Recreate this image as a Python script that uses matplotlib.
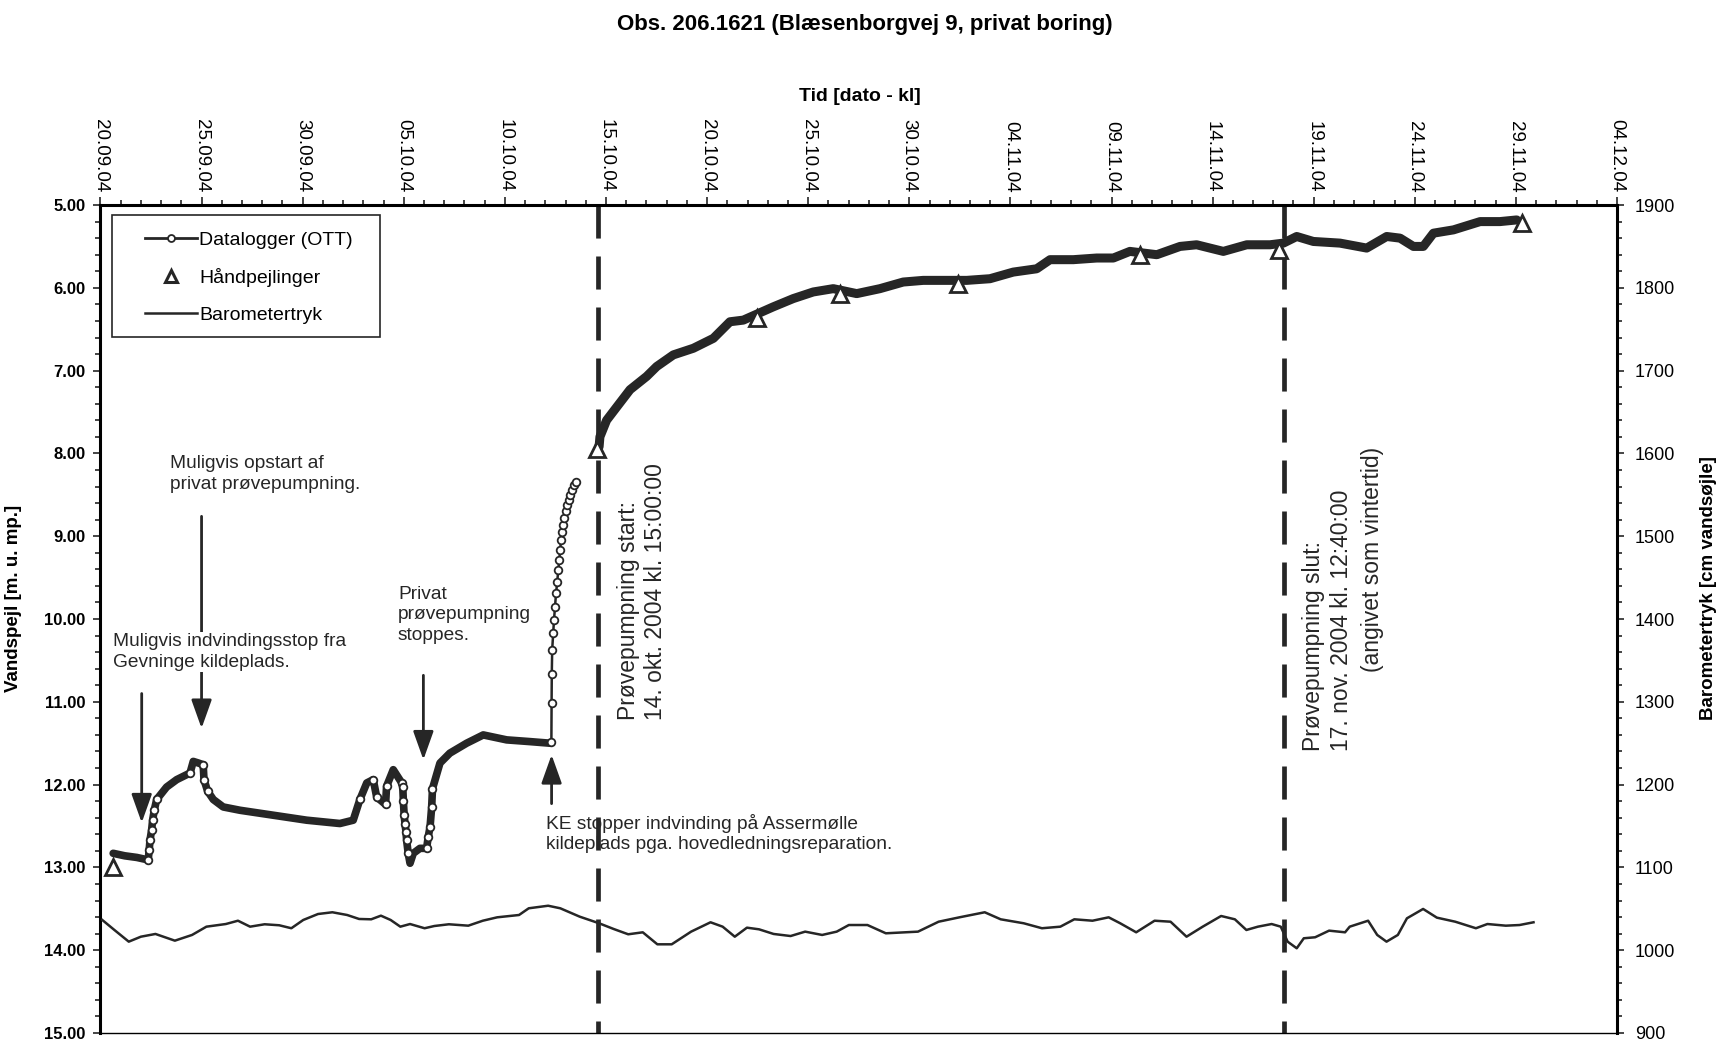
import numpy as np
import matplotlib.pyplot as plt
import matplotlib.dates as mdates
from matplotlib.lines import Line2D
from matplotlib.patches import Rectangle
from matplotlib.ticker import MultipleLocator, FormatStrFormatter, FixedLocator
from datetime import datetime, timedelta

plt.rcParams['font.family'] = ['Liberation Sans', 'DejaVu Sans']

START = datetime(2004, 9, 20)

# datalogger (OTT): dage efter 20.09.2004, vandspejl [m u. mp.]
foer_dage = [0.63, 1.20, 1.80, 2.36, 2.41, 2.45, 2.53, 2.58, 2.66, 2.78,
             3.27, 3.77, 4.43, 4.59, 4.85, 5.08, 5.12, 5.30, 5.58, 6.07,
             6.90, 8.55, 10.20, 11.84, 12.50, 12.83, 13.17, 13.49, 13.66, 14.10,
             14.15, 14.48, 14.90, 14.95, 14.98, 15.02, 15.06, 15.11, 15.14, 15.22,
             15.31, 15.47, 15.80, 16.13, 16.21, 16.30, 16.38, 16.42, 16.79, 17.28,
             18.11, 18.93, 20.09, 21.20, 22.23]
foer_niveau = [12.83, 12.86, 12.88, 12.91, 12.79, 12.67, 12.55, 12.43, 12.31, 12.18,
               12.03, 11.94, 11.86, 11.72, 11.74, 11.76, 11.94, 12.08, 12.18, 12.27,
               12.31, 12.37, 12.43, 12.47, 12.43, 12.18, 11.98, 11.94, 12.15, 12.24,
               12.02, 11.82, 11.98, 12.03, 12.20, 12.37, 12.47, 12.57, 12.67, 12.83,
               12.95, 12.83, 12.77, 12.77, 12.63, 12.51, 12.27, 12.05, 11.74, 11.62,
               11.50, 11.40, 11.46, 11.48, 11.50]

stig_dage = [22.30, 22.31, 22.32, 22.34, 22.39, 22.43, 22.48, 22.53, 22.59, 22.64,
             22.69, 22.73, 22.78, 22.83, 22.89, 22.94, 23.01, 23.09, 23.15, 23.22,
             23.30, 23.42, 23.52]
stig_niveau = [11.48, 11.02, 10.66, 10.37, 10.17, 10.01, 9.85, 9.69, 9.55, 9.41,
               9.29, 9.17, 9.05, 8.95, 8.86, 8.78, 8.70, 8.62, 8.56, 8.50,
               8.44, 8.38, 8.34]

efter_dage = [24.66, 24.70, 25.03, 25.53, 26.19, 27.01, 27.51, 28.33, 29.32, 30.31,
              31.13, 31.79, 33.27, 34.26, 35.25, 36.24, 37.40, 38.55, 39.70, 40.69,
              41.68, 42.84, 43.99, 45.14, 46.30, 46.96, 48.11, 49.27, 50.09, 50.91,
              52.24, 53.39, 54.21, 55.53, 56.69, 57.84, 58.50, 59.16, 59.98, 61.30,
              62.62, 63.61, 64.27, 64.93, 65.42, 65.92, 66.91, 68.23, 69.21, 70.04]
efter_niveau = [7.92, 7.80, 7.60, 7.44, 7.23, 7.07, 6.95, 6.81, 6.73, 6.61,
                6.41, 6.39, 6.23, 6.13, 6.05, 6.01, 6.07, 6.01, 5.93, 5.91,
                5.91, 5.91, 5.89, 5.81, 5.77, 5.66, 5.66, 5.64, 5.64, 5.56,
                5.60, 5.50, 5.48, 5.56, 5.48, 5.48, 5.46, 5.38, 5.44, 5.46,
                5.52, 5.38, 5.40, 5.50, 5.50, 5.34, 5.30, 5.20, 5.20, 5.18]

# håndpejlinger
haand_dage = [0.63, 24.55, 32.45, 36.57, 42.42, 51.40, 58.30, 70.29]
haand_niveau = [13.00, 7.95, 6.37, 6.07, 5.95, 5.60, 5.54, 5.22]

# barometertryk [cm vandsøjle]
baro_dage = [0.09, 0.69, 1.40, 2.00, 2.72, 3.68, 4.53, 5.24, 6.20, 6.80,
             7.40, 8.12, 8.84, 9.44, 10.03, 10.76, 11.47, 12.20, 12.79, 13.39,
             13.87, 14.35, 14.83, 15.31, 16.03, 16.51, 17.23, 18.19, 18.91, 19.62,
             20.70, 21.18, 22.14, 22.74, 23.70, 24.66, 25.38, 26.10, 26.82, 27.54,
             28.25, 29.21, 30.17, 30.77, 31.37, 31.97, 32.57, 33.29, 34.13, 34.85,
             35.69, 36.41, 37.01, 37.93, 38.84, 40.43, 41.45, 42.48, 43.73, 44.52,
             45.66, 46.56, 47.47, 48.16, 49.06, 49.86, 50.43, 51.22, 52.13, 52.92,
             53.71, 54.51, 55.42, 56.10, 56.67, 57.24, 57.92, 58.37, 58.71, 59.16,
             59.51, 60.07, 60.76, 61.55, 61.78, 62.69, 63.14, 63.60, 64.16, 64.61,
             65.41, 66.09, 67.00, 68.02, 68.59, 69.50, 70.18, 70.87]
baro_cm = [1036.5, 1024.4, 1010.3, 1016.3, 1019.6, 1011.5, 1018.4, 1028.4, 1031.6, 1035.6,
           1028.4, 1031.3, 1030.1, 1026.5, 1036.5, 1043.7, 1045.8, 1042.5, 1037.7, 1037.3,
           1041.7, 1036.5, 1028.4, 1031.6, 1026.5, 1029.2, 1031.3, 1029.6, 1035.6, 1039.7,
           1042.5, 1050.6, 1053.7, 1050.6, 1040.5, 1032.5, 1025.6, 1019.2, 1021.6, 1007.1,
           1007.1, 1022.4, 1033.7, 1028.4, 1016.3, 1027.2, 1025.2, 1019.6, 1017.1, 1022.4,
           1018.4, 1022.4, 1030.4, 1030.4, 1020.4, 1022.4, 1034.4, 1039.7, 1045.8, 1037.3,
           1032.5, 1026.5, 1028.4, 1037.3, 1035.6, 1039.7, 1032.5, 1021.6, 1035.6, 1034.4,
           1016.3, 1028.4, 1041.3, 1037.3, 1024.4, 1028.4, 1031.6, 1028.4, 1010.3, 1002.3,
           1014.4, 1015.6, 1023.6, 1021.6, 1028.4, 1035.6, 1018.4, 1010.3, 1018.4, 1038.5,
           1049.8, 1039.3, 1034.4, 1026.5, 1031.6, 1029.6, 1030.4, 1033.7]

pumpe_start = datetime(2004, 10, 14, 15, 0)
pumpe_slut = datetime(2004, 11, 17, 12, 40)

DARK = '#262626'


def dato(dage):
    if np.ndim(dage) == 0:
        return mdates.date2num(START + timedelta(days=float(dage)))
    return [mdates.date2num(START + timedelta(days=float(d))) for d in dage]


fig = plt.figure(figsize=(17.23, 10.45), dpi=100)
ax = fig.add_axes([0.0583, 0.0115, 0.8802, 0.7923])
ax2 = ax.twinx()

# datalogger: tykt bånd, cirkler hvor målingerne ligger spredt (stejle stykker)
fd = np.array(foer_dage)
fn = np.array(foer_niveau)
steep = np.where(np.abs(np.gradient(fn, fd)) > 0.6)[0].tolist()
ax.plot(dato(fd), fn, color=DARK, lw=5.5, solid_capstyle='round', solid_joinstyle='round',
        marker='o', markevery=steep, ms=5.5, mfc='white', mec=DARK, mew=1.3, zorder=3)
ax.plot(dato(stig_dage), stig_niveau, color=DARK, lw=1.8, marker='o', ms=5.5,
        mfc='white', mec=DARK, mew=1.3, zorder=3)
ax.plot(dato(efter_dage), efter_niveau, color=DARK, lw=6.5, solid_capstyle='round',
        solid_joinstyle='round', zorder=3)
ax.plot(dato(haand_dage), haand_niveau, ls='none', marker='^', ms=12, mfc='white',
        mec=DARK, mew=2, zorder=4)

ax2.plot(dato(baro_dage), baro_cm, color=DARK, lw=1.8)

for t in [pumpe_start, pumpe_slut]:
    ax.axvline(mdates.date2num(t), ymin=1, ymax=0, color=DARK, lw=3.4, dashes=(7, 3.8), zorder=2)

# akser
ax.set_xlim(dato(0), dato(75))
ax.set_ylim(15, 5)
ax2.set_ylim(900, 1900)

ax.xaxis.set_major_locator(FixedLocator(dato(np.arange(0, 76, 5))))
ax.xaxis.set_minor_locator(FixedLocator(dato(np.arange(0, 76, 1))))
ax.xaxis.set_major_formatter(mdates.DateFormatter('%d.%m.%y'))
ax.tick_params(axis='x', which='both', top=True, bottom=False, labeltop=True,
               labelbottom=False, direction='out', color=DARK, width=1.2)
ax.tick_params(axis='x', which='major', length=6, pad=3, labelsize=13.5, labelrotation=-90)
ax.tick_params(axis='x', which='minor', length=3.5)

ax.yaxis.set_major_locator(MultipleLocator(1))
ax.yaxis.set_minor_locator(MultipleLocator(0.2))
ax.yaxis.set_major_formatter(FormatStrFormatter('%.2f'))
ax.tick_params(axis='y', which='both', direction='out', color=DARK, width=1.2)
ax.tick_params(axis='y', which='major', length=5, pad=6, labelsize=12)
ax.tick_params(axis='y', which='minor', length=3.5)
for lab in ax.get_yticklabels():
    lab.set_fontweight('bold')

ax2.yaxis.set_major_locator(MultipleLocator(100))
ax2.yaxis.set_minor_locator(MultipleLocator(20))
ax2.tick_params(axis='y', which='both', direction='out', color=DARK, width=1.2)
ax2.tick_params(axis='y', which='major', length=5, pad=8, labelsize=13)
ax2.tick_params(axis='y', which='minor', length=3.5)

for s in ['top', 'left']:
    ax.spines[s].set_linewidth(2.2)
ax.spines['bottom'].set_linewidth(1)
ax.spines['right'].set_visible(False)
for s in ['top', 'left', 'bottom']:
    ax2.spines[s].set_visible(False)
ax2.spines['right'].set_linewidth(2.2)

ax.set_ylabel('Vandspejl [m. u. mp.]', fontsize=13.5, fontweight='bold')
ax.yaxis.set_label_coords(-0.0515, 0.525)
ax2.set_ylabel('Barometertryk [cm vandsøjle]', fontsize=13.5, fontweight='bold')
ax2.yaxis.set_label_coords(1.0544, 0.537)

fig.text(0.502, 0.977, 'Obs. 206.1621 (Blæsenborgvej 9, privat boring)',
         ha='center', va='center', fontsize=16, fontweight='bold')
fig.text(0.499, 0.908, 'Tid [dato - kl]', ha='center', va='center',
         fontsize=14, fontweight='bold')

# kommentarer med pile
arrow = dict(arrowstyle='-|>,head_length=0.7,head_width=0.25', lw=2, color=DARK,
             mutation_scale=25, shrinkA=0, shrinkB=0)
ax.annotate('', xy=(dato(5.0), 11.32), xytext=(dato(5.0), 8.76), arrowprops=arrow, zorder=4)
ax.annotate('', xy=(dato(2.04), 12.46), xytext=(dato(2.04), 10.90), arrowprops=arrow, zorder=4)
ax.annotate('', xy=(dato(15.97), 11.70), xytext=(dato(15.97), 10.68), arrowprops=arrow, zorder=4)
ax.annotate('', xy=(dato(22.31), 11.64), xytext=(dato(22.31), 12.23), arrowprops=arrow, zorder=4)

tkw = dict(fontsize=13.8, color=DARK, ha='left', va='center', linespacing=1.25)
ax.text(dato(3.45), 8.25, 'Muligvis opstart af\nprivat prøvepumpning.', **tkw)
ax.text(dato(0.62), 10.40, 'Muligvis indvindingsstop fra\nGevninge kildeplads.', zorder=6,
        bbox=dict(facecolor='white', edgecolor='none', pad=1), **tkw)
ax.text(dato(14.71), 9.95, 'Privat\nprøvepumpning\nstoppes.', **tkw)
ax.text(dato(22.03), 12.59, 'KE stopper indvinding på Assermølle\nkildeplads pga. hovedledningsreparation.', **tkw)

vkw = dict(fontsize=16.5, color=DARK, rotation=90, linespacing=1.25)
ax.text(dato(26.77), 11.22, 'Prøvepumpning start:\n14. okt. 2004 kl. 15:00:00',
        ha='center', va='bottom', multialignment='left', **vkw)
ax.text(dato(60.68), 11.59, 'Prøvepumpning slut:\n17. nov. 2004 kl. 12:40:00',
        ha='center', va='bottom', multialignment='left', **vkw)
ax.text(dato(62.93), 7.92, '(angivet som vintertid)', ha='center', va='top', **vkw)

# signaturforklaring med egen ramme
ax2.add_patch(Rectangle((0.0074, 0.8409), 0.1768, 0.147, transform=ax2.transAxes,
                        facecolor='white', edgecolor=DARK, lw=1.2, zorder=5))
handles = [
    Line2D([], [], color=DARK, lw=2, marker='o', ms=5, mfc='white', mec=DARK, mew=1.3),
    Line2D([], [], ls='none', marker='^', ms=9, mfc='white', mec=DARK, mew=2.2),
    Line2D([], [], color=DARK, lw=1.8),
]
leg = ax2.legend(handles, ['Datalogger (OTT)', 'Håndpejlinger', 'Barometertryk'],
                 loc='upper left', bbox_to_anchor=(0.0293, 0.9686), fontsize=14,
                 frameon=False, handlelength=2.7, handletextpad=0.1, labelspacing=1.0,
                 borderpad=0, borderaxespad=0, numpoints=1)
leg.set_zorder(6)

fig.savefig('out.png', dpi=100)
